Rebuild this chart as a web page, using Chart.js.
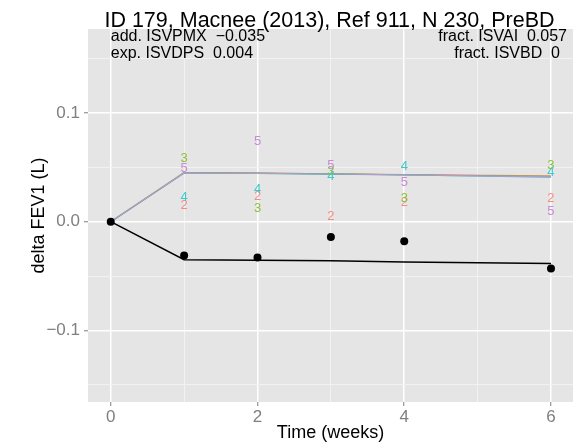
<!DOCTYPE html>
<html>
<head>
<meta charset="utf-8">
<script src="https://cdn.jsdelivr.net/npm/chart.js@4.4.1/dist/chart.umd.min.js"></script>
<style>
  html, body { margin: 0; padding: 0; background: #ffffff; }
  #wrap { width: 578px; height: 445px; }
</style>
</head>
<body>
<div id="wrap"><canvas id="c" width="578" height="445"></canvas></div>
<script>
// ---------- data ----------
const titleText = "ID 179, Macnee (2013), Ref 911, N 230, PreBD";
const annoLeft = ["add. ISVPMX  \u22120.035", "exp. ISVDPS  0.004"];
const annoRight = ["fract. ISVAI  0.057", "fract. ISVBD  0"];

const weeks = [0, 1, 2, 3, 4, 6];
const observed = [0, -0.031, -0.033, -0.014, -0.018, -0.043];
const modelBlack = [0, -0.035, -0.0355, -0.036, -0.037, -0.0385];

const model2 = [0, 0.0452, 0.0447, 0.0441, 0.0433, 0.0422];
const model3 = [0, 0.0451, 0.0446, 0.0440, 0.0432, 0.0418];
const model4 = [0, 0.0448, 0.0444, 0.0438, 0.0430, 0.0410];
const model5 = [0, 0.0449, 0.0445, 0.0439, 0.0431, 0.0413];

const labelWeeks = [1, 2, 3, 4, 6];
const label2 = [0.0147, 0.0230, 0.0046, 0.0178, 0.0215];
const label3 = [0.0583, 0.0123, 0.0460, 0.0215, 0.0522];
const label4 = [0.0220, 0.0298, 0.0414, 0.0512, 0.0451];
const label5 = [0.0490, 0.0736, 0.0522, 0.0362, 0.0098];

const xTicks = [0, 1, 2, 3, 4, 5, 6];
const xTickLabels = ["0", "", "2", "", "4", "", "6"];
const yTicks = [-0.15, -0.1, -0.05, 0, 0.05, 0.1, 0.15];
const yTickLabels = ["", "\u22120.1", "", "0.0", "", "0.1", ""];

// ---------- styling ----------
const FONT = '"Liberation Sans", Arial, Helvetica, sans-serif';
const COL2 = '#F8766D', COL3 = '#7CAE00', COL4 = '#00BFC4', COL5 = '#C77CFF';

function pts(xs, ys) { return xs.map((x, i) => ({ x: x, y: ys[i] })); }

const labelSets = [
  { text: '2', color: '#F58C84', values: label2 },
  { text: '3', color: '#8CBF3A', values: label3 },
  { text: '4', color: '#3EC8CC', values: label4 },
  { text: '5', color: '#C98AD6', values: label5 }
];

const bgPlugin = {
  id: 'panelBg',
  beforeDraw(chart) {
    const { ctx, chartArea: a } = chart;
    ctx.save();
    ctx.fillStyle = '#E5E5E5';
    ctx.fillRect(a.left, a.top, a.right - a.left, a.bottom - a.top);
    ctx.restore();
  }
};

const labelPlugin = {
  id: 'numLabels',
  afterDatasetsDraw(chart) {
    const { ctx, scales } = chart;
    ctx.save();
    ctx.font = '13px ' + FONT;
    ctx.textAlign = 'center';
    ctx.textBaseline = 'middle';
    labelSets.forEach(set => {
      ctx.fillStyle = set.color;
      set.values.forEach((v, i) => {
        ctx.fillText(set.text, scales.x.getPixelForValue(labelWeeks[i]), scales.y.getPixelForValue(v));
      });
    });
    ctx.restore();
  }
};

const textPlugin = {
  id: 'texts',
  afterDraw(chart) {
    const { ctx, chartArea: a, scales } = chart;
    ctx.save();
    ctx.fillStyle = '#000';
    ctx.textBaseline = 'alphabetic';
    ctx.font = '21.5px ' + FONT;
    ctx.textAlign = 'center';
    ctx.fillText(titleText, (a.left + a.right) / 2 - 1, 27);
    ctx.font = '16px ' + FONT;
    ctx.textAlign = 'left';
    const x0 = scales.x.getPixelForValue(0);
    ctx.fillText(annoLeft[0], x0, 41);
    ctx.fillText(annoLeft[1], x0, 58);
    ctx.textAlign = 'right';
    ctx.fillText(annoRight[0], a.right - 6, 41);
    ctx.fillText(annoRight[1], a.right - 13, 58);
    ctx.restore();
  }
};

function lineDs(data, color, width, order) {
  return {
    type: 'line',
    data: pts(weeks, data),
    borderColor: color,
    backgroundColor: color,
    borderWidth: width,
    pointRadius: 0,
    fill: false,
    tension: 0,
    order: order
  };
}

const cfg = {
  type: 'line',
  data: {
    datasets: [
      lineDs(model2, 'rgba(248,118,109,0.8)', 1.2, 6),
      lineDs(model3, 'rgba(124,174,0,0.8)', 1.2, 5),
      lineDs(model4, 'rgba(0,191,196,0.8)', 1.2, 4),
      lineDs(model5, 'rgba(196,150,206,0.9)', 1.2, 3),
      lineDs(modelBlack, '#000000', 1.5, 2),
      {
        type: 'scatter',
        data: pts(weeks, observed),
        showLine: false,
        pointRadius: 4,
        pointBackgroundColor: '#000',
        pointBorderColor: '#000',
        pointBorderWidth: 0,
        order: 1
      }
    ]
  },
  options: {
    responsive: false,
    animation: false,
    devicePixelRatio: 1,
    layout: { padding: { left: 0, right: 5, top: 29, bottom: 0 } },
    plugins: {
      legend: { display: false },
      tooltip: { enabled: false },
      title: { display: false }
    },
    scales: {
      x: {
        type: 'linear',
        min: -0.31,
        max: 6.3,
        afterFit(s) { s.height = 43; },
        afterBuildTicks(s) { s.ticks = xTicks.map(v => ({ value: v })); },
        border: { display: false },
        grid: {
          color: c => (c.tick && c.tick.value % 2 === 0) ? '#FFFFFF' : '#F2F2F2',
          lineWidth: c => (c.tick && c.tick.value % 2 === 0) ? 1.5 : 1,
          tickColor: c => (c.tick && c.tick.value % 2 === 0) ? '#7F7F7F' : 'rgba(0,0,0,0)',
          tickLength: 4,
          tickWidth: 1
        },
        ticks: {
          autoSkip: false,
          maxRotation: 0,
          padding: 1,
          color: '#7F7F7F',
          font: { family: FONT, size: 17 },
          callback: (v, i) => xTickLabels[i]
        },
        title: {
          display: true,
          text: 'Time (weeks)',
          color: '#000',
          font: { family: FONT, size: 18 },
          padding: { top: 0, bottom: 1.5 }
        }
      },
      y: {
        type: 'linear',
        min: -0.1659,
        max: 0.1773,
        afterFit(s) { s.width = 88; },
        afterBuildTicks(s) { s.ticks = yTicks.map(v => ({ value: v })); },
        border: { display: false },
        grid: {
          color: c => (c.tick && yTickLabels[c.index] !== "") ? '#FFFFFF' : '#F2F2F2',
          lineWidth: c => (c.tick && yTickLabels[c.index] !== "") ? 1.5 : 1,
          tickColor: c => (c.tick && yTickLabels[c.index] !== "") ? '#7F7F7F' : 'rgba(0,0,0,0)',
          tickLength: 4,
          tickWidth: 1
        },
        ticks: {
          autoSkip: false,
          padding: 4,
          color: '#7F7F7F',
          font: { family: FONT, size: 17 },
          callback: (v, i) => yTickLabels[i]
        },
        title: {
          display: true,
          text: 'delta FEV1 (L)',
          color: '#000',
          font: { family: FONT, size: 18 },
          padding: { top: 28, bottom: 0 }
        }
      }
    }
  },
  plugins: [bgPlugin, labelPlugin, textPlugin]
};

new Chart(document.getElementById('c'), cfg);
</script>
</body>
</html>
